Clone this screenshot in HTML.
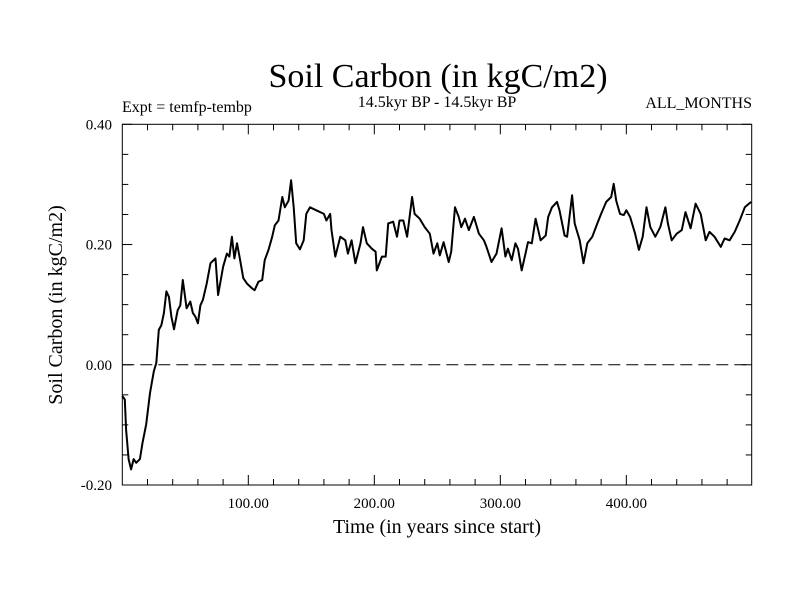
<!DOCTYPE html>
<html><head><meta charset="utf-8"><style>
html,body{margin:0;padding:0;background:#fff}
svg{display:block}
text{font-family:"Liberation Serif",serif;fill:#000}
</style></head><body>
<svg id="chart" width="800" height="600" xmlns="http://www.w3.org/2000/svg">
<rect width="800" height="600" fill="#fff"/>
<text x="438" y="87" font-size="34" text-anchor="middle">Soil Carbon (in kgC/m2)</text>
<text x="122" y="112" font-size="16">Expt = temfp-tembp</text>
<text x="437" y="107" font-size="16" text-anchor="middle">14.5kyr BP - 14.5kyr BP</text>
<text x="752" y="108" font-size="16" text-anchor="end">ALL_MONTHS</text>
<text x="437" y="533" font-size="20" text-anchor="middle">Time (in years since start)</text>
<text transform="translate(62,305) rotate(-90)" font-size="20" text-anchor="middle">Soil Carbon (in kgC/m2)</text>
<g id="axes"></g>
<g id="series"></g>
<rect x="122.3" y="124.3" width="629.4" height="360.7" fill="none" stroke="#000" stroke-width="1"/>
</svg>
<script>
const years=[0,2,3,5,7,9,11,14,16,19,22,25,27,29,31,33,35,37,39,41,44,46,48,51,54,56,58,60,62,64,67,70,74,76,80,83,85,87,89,91,93,96,99,103,105,108,111,113,116,119,121,124,127,129,132,134,136,138,141,144,146,149,154,160,162,165,166,169,173,177,179,182,185,189,191,194,198,201,202,206,209,211,215,218,220,223,226,230,232,236,240,244,247,250,252,255,259,261,264,267,269,272,275,279,283,287,289,293,297,301,304,306,309,312,314,317,320,322,325,328,332,336,338,341,345,347,351,353,357,359,363,366,369,373,377,380,384,388,390,392,395,398,400,403,407,410,413,416,419,423,427,431,433,436,440,444,447,451,455,459,463,466,470,475,478,482,486,490,494,499];
const values=[-0.052,-0.058,-0.108,-0.157,-0.174,-0.157,-0.163,-0.157,-0.130,-0.099,-0.047,-0.011,0.003,0.058,0.066,0.086,0.122,0.113,0.080,0.059,0.091,0.099,0.141,0.094,0.105,0.086,0.080,0.069,0.099,0.108,0.135,0.169,0.177,0.116,0.163,0.185,0.180,0.213,0.177,0.202,0.180,0.144,0.135,0.127,0.124,0.138,0.141,0.174,0.191,0.213,0.232,0.240,0.279,0.262,0.273,0.307,0.262,0.202,0.192,0.207,0.251,0.262,0.257,0.251,0.240,0.251,0.224,0.180,0.213,0.207,0.185,0.207,0.169,0.202,0.229,0.202,0.193,0.188,0.157,0.180,0.180,0.235,0.238,0.213,0.240,0.240,0.213,0.279,0.251,0.243,0.229,0.218,0.185,0.202,0.182,0.204,0.171,0.188,0.262,0.246,0.229,0.243,0.224,0.246,0.218,0.207,0.196,0.171,0.185,0.227,0.180,0.193,0.174,0.202,0.193,0.157,0.185,0.204,0.202,0.243,0.207,0.215,0.246,0.262,0.271,0.257,0.215,0.213,0.282,0.235,0.207,0.169,0.202,0.213,0.235,0.251,0.271,0.279,0.301,0.273,0.251,0.249,0.257,0.246,0.218,0.191,0.213,0.262,0.229,0.213,0.229,0.262,0.235,0.207,0.218,0.224,0.254,0.227,0.268,0.251,0.207,0.221,0.213,0.196,0.210,0.207,0.221,0.240,0.262,0.271];
const xTickVals=[100,200,300,400];
const xTickLabels=["100.00","200.00","300.00","400.00"];
const yTickVals=[-0.2,0,0.2,0.4];
const yTickLabels=["-0.20","0.00","0.20","0.40"];
const X0=122.3,X1=751.7,Y0=485,Y1=124.3,XMIN=0,XMAX=499.5,YMIN=-0.2,YMAX=0.4;
function xs(v){return X0+(v-XMIN)/(XMAX-XMIN)*(X1-X0);}
function ys(v){return Y0-(v-YMIN)/(YMAX-YMIN)*(Y0-Y1);}
const NS="http://www.w3.org/2000/svg";
const axes=document.getElementById('axes');
function mk(tag,attrs,parent){const e=document.createElementNS(NS,tag);for(const k in attrs)e.setAttribute(k,attrs[k]);parent.appendChild(e);return e;}
for(let v=20;v<XMAX;v+=20){
  const major=v%100===0;const L=major?10:6;const x=xs(v);
  const t1=mk('line',{x1:x,x2:x,y1:Y0,y2:Y0-L,stroke:'#000','stroke-width':1},axes);
  
  
  const t2=mk('line',{x1:x,x2:x,y1:Y1,y2:Y1+L,stroke:'#000','stroke-width':1},axes);
  
  
}
for(let i=-4;i<=8;i++){
  const v=i*0.05;const major=i%4===0;const L=major?10:6;const y=ys(v);
  const t1=mk('line',{x1:X0,x2:X0+L,y1:y,y2:y,stroke:'#000','stroke-width':1},axes);
  
  
  const t2=mk('line',{x1:X1,x2:X1-L,y1:y,y2:y,stroke:'#000','stroke-width':1},axes);
  
  
}
xTickVals.forEach((v,i)=>{
  const t=mk('text',{x:xs(v),y:508,'font-size':15,'text-anchor':'middle'},axes);
  t.textContent=xTickLabels[i];
  
  
});
yTickVals.forEach((v,i)=>{
  const t=mk('text',{x:112,y:ys(v)+5,'font-size':15,'text-anchor':'end'},axes);
  t.textContent=yTickLabels[i];
  
  
});
const zl=mk('line',{x1:X0,x2:X1,y1:ys(0),y2:ys(0),stroke:'#000','stroke-width':1,'stroke-dasharray':'12,6'},axes);


const series=document.getElementById('series');
const d=years.map((y,i)=>(i?'L':'M')+xs(y).toFixed(1)+','+ys(values[i]).toFixed(1)).join(' ');
const p=mk('path',{d:d,fill:'none',stroke:'#000','stroke-width':2,'stroke-linejoin':'round'},series);


</script>
</body></html>
